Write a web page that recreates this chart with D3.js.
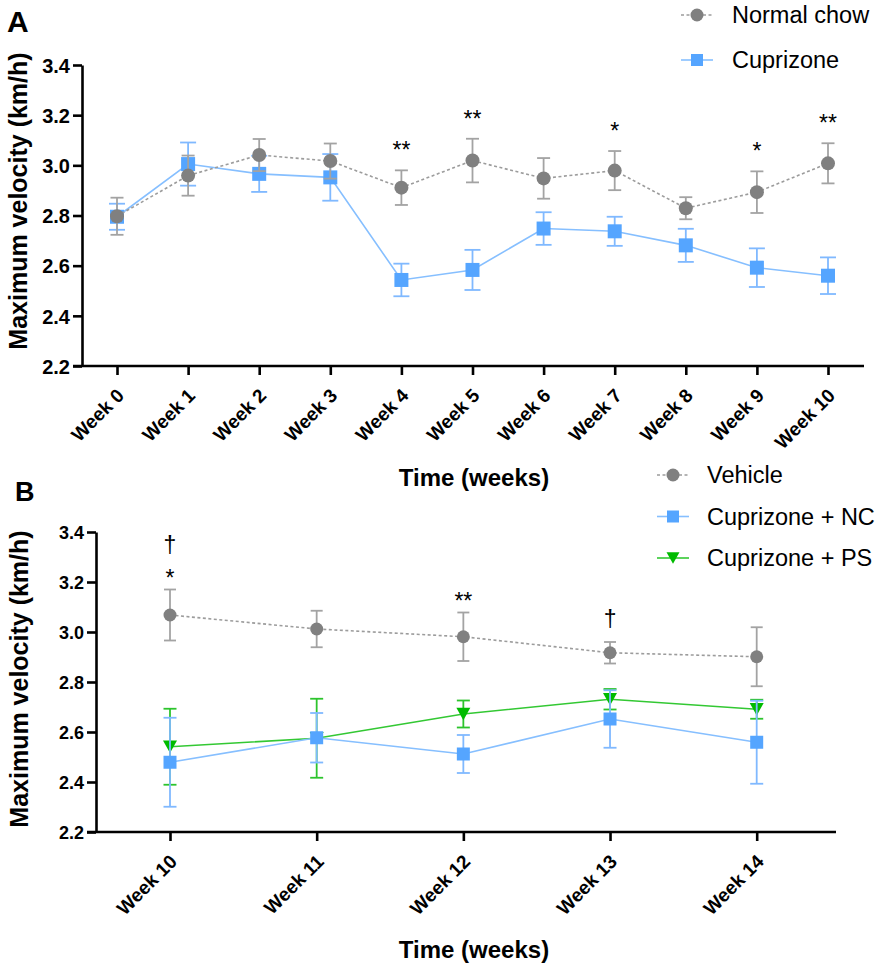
<!DOCTYPE html>
<html>
<head>
<meta charset="utf-8">
<script src="https://cdn.jsdelivr.net/npm/d3@7/dist/d3.min.js"></script>
<style>
  body { margin: 0; background: #fff; }
  svg { display: block; font-family: "Liberation Sans", Arial, Helvetica, sans-serif; }
</style>
</head>
<body>
<svg id="chart" width="886" height="966"></svg>
<script>
// ---------- Panel A data: weeks 0-10 (mean ± SEM, km/h) ----------
const weeksA = ["Week 0", "Week 1", "Week 2", "Week 3", "Week 4", "Week 5",
                "Week 6", "Week 7", "Week 8", "Week 9", "Week 10"];
const normalChowMean = [2.797, 2.959, 3.041, 3.017, 2.911, 3.019, 2.948, 2.979, 2.829, 2.893, 3.008];
const normalChowSem  = [0.074, 0.080, 0.064, 0.070, 0.069, 0.087, 0.081, 0.078, 0.044, 0.083, 0.080];
const cuprizoneMean  = [2.795, 3.005, 2.966, 2.952, 2.543, 2.583, 2.748, 2.737, 2.681, 2.592, 2.560];
const cuprizoneSem   = [0.052, 0.086, 0.072, 0.093, 0.065, 0.080, 0.065, 0.058, 0.066, 0.077, 0.073];
// significance marks per week (bottom to top)
const sigA = [[], [], [], [], ["**"], ["**"], [], ["*"], [], ["*"], ["**"]];

// ---------- Panel B data: weeks 10-14 ----------
const weeksB = ["Week 10", "Week 11", "Week 12", "Week 13", "Week 14"];
const vehicleMean = [3.068, 3.012, 2.981, 2.917, 2.901];
const vehicleSem  = [0.102, 0.073, 0.097, 0.043, 0.118];
const cupNCMean   = [2.479, 2.577, 2.512, 2.652, 2.559];
const cupNCSem    = [0.178, 0.099, 0.076, 0.115, 0.166];
const cupPSMean   = [2.541, 2.575, 2.672, 2.731, 2.691];
const cupPSSem    = [0.152, 0.158, 0.054, 0.041, 0.038];
const sigB = [["*", "†"], [], ["**"], ["†"], []];

const yTicks = [2.2, 2.4, 2.6, 2.8, 3.0, 3.2, 3.4];
const yTitle = "Maximum velocity (km/h)";
const xTitle = "Time (weeks)";

const svg = d3.select("#chart");

const styles = {
  gray:  { marker: "circle",   fill: "#808080", line: "#9c9c9c", dash: "3,2.5", err: "#a3a3a3" },
  blue:  { marker: "square",   fill: "#55a5ff", line: "#86bfff", dash: null,    err: "#80b9ff" },
  green: { marker: "triangle", fill: "#00bb00", line: "#33c833", dash: null,    err: "#2dc42d" }
};

function markerPath(type, size) {
  if (type === "circle") return d3.symbol(d3.symbolCircle, Math.PI * size * size / 4)();
  if (type === "square") return d3.symbol(d3.symbolSquare, size * size)();
  // downward triangle
  const h = size * 0.88, w = size;
  return `M${-w / 2},${-h / 2}L${w / 2},${-h / 2}L0,${h / 2}Z`;
}

function drawPanel(cfg) {
  const g = svg.append("g");
  const x = d3.scalePoint().domain(cfg.categories).range(cfg.xRange);
  const y = d3.scaleLinear().domain([2.2, 3.4]).range(cfg.yRange);

  // y axis
  const ya = g.append("g")
    .attr("transform", `translate(${cfg.axisX},0)`)
    .call(d3.axisLeft(y).tickValues(yTicks).tickFormat(d3.format(".1f"))
      .tickSize(9).tickSizeOuter(0).tickPadding(3));
  ya.select(".domain").attr("stroke", "#000").attr("stroke-width", 2.6);
  ya.selectAll(".tick line").attr("stroke", "#000").attr("stroke-width", 2.6);
  ya.selectAll(".tick text").attr("fill", "#000")
    .style("font-size", cfg.yTickFont + "px").style("font-weight", "bold")
    .attr("dy", "0.36em");

  // x axis
  const xa = g.append("g")
    .attr("transform", `translate(0,${y(2.2)})`)
    .call(d3.axisBottom(x).tickSize(9).tickSizeOuter(0));
  xa.select(".domain").remove();
  xa.append("line")
    .attr("x1", cfg.axisX - 9).attr("x2", cfg.xEnd)
    .attr("stroke", "#000").attr("stroke-width", 2.6);
  xa.selectAll(".tick line").attr("stroke", "#000").attr("stroke-width", 2.6);
  xa.selectAll(".tick text")
    .attr("fill", "#000").attr("x", 0).attr("y", 0).attr("dy", "0.35em")
    .attr("transform", "translate(3,26) rotate(-45)")
    .style("text-anchor", "end")
    .style("font-size", "19px").style("font-weight", "bold");

  // series: connecting lines, error bars, markers
  cfg.series.forEach(s => {
    const st = styles[s.style];
    const pts = cfg.categories.map((c, i) => ({ c, m: s.mean[i], e: s.sem[i] }));
    g.append("path")
      .datum(pts)
      .attr("fill", "none")
      .attr("stroke", st.line)
      .attr("stroke-width", 1.6)
      .attr("stroke-dasharray", st.dash)
      .attr("d", d3.line().x(d => x(d.c)).y(d => y(d.m)));

    const eb = g.append("g").selectAll("g").data(pts).join("g")
      .attr("stroke", st.err).attr("stroke-width", 1.8);
    eb.append("line")
      .attr("x1", d => x(d.c)).attr("x2", d => x(d.c))
      .attr("y1", d => y(d.m - d.e)).attr("y2", d => y(d.m + d.e));
    eb.append("line")
      .attr("x1", d => x(d.c) - s.cap).attr("x2", d => x(d.c) + s.cap)
      .attr("y1", d => y(d.m + d.e)).attr("y2", d => y(d.m + d.e));
    eb.append("line")
      .attr("x1", d => x(d.c) - s.cap).attr("x2", d => x(d.c) + s.cap)
      .attr("y1", d => y(d.m - d.e)).attr("y2", d => y(d.m - d.e));

    g.append("g").selectAll("path").data(pts).join("path")
      .attr("d", markerPath(st.marker, s.size))
      .attr("transform", d => `translate(${x(d.c)},${y(d.m)})`)
      .attr("fill", st.fill);
  });

  // significance marks above the highest error bar
  cfg.sig.forEach((marks, i) => {
    if (!marks.length) return;
    const top = d3.max(cfg.series, s => s.mean[i] + s.sem[i]);
    let base = y(top) - (marks[0] === "†" ? cfg.daggerGap : cfg.starGap);
    marks.forEach((t, k) => {
      if (k > 0) base -= 33;
      g.append("text")
        .attr("x", x(cfg.categories[i])).attr("y", base)
        .attr("text-anchor", "middle")
        .style("font-size", "23px").attr("fill", "#000")
        .text(t);
    });
  });

  // axis titles
  g.append("text")
    .attr("transform", `translate(${cfg.yTitleX},${cfg.yTitleY}) rotate(-90)`)
    .attr("text-anchor", "middle")
    .style("font-size", "25px").style("font-weight", "bold")
    .text(yTitle);
  g.append("text")
    .attr("x", cfg.xTitleX).attr("y", cfg.xTitleY)
    .attr("text-anchor", "middle")
    .style("font-size", "24px").style("font-weight", "bold")
    .text(xTitle);

  // panel letter
  g.append("text")
    .attr("x", cfg.letterX).attr("y", cfg.letterY)
    .style("font-size", cfg.letterSize + "px").style("font-weight", "bold")
    .text(cfg.letter);

  // legend
  const lg = g.append("g");
  cfg.legend.forEach((item, i) => {
    const st = styles[item.style];
    const yy = cfg.legendY + i * cfg.legendStep;
    lg.append("line")
      .attr("x1", cfg.legendX - 16).attr("x2", cfg.legendX + 16)
      .attr("y1", yy).attr("y2", yy)
      .attr("stroke", st.line).attr("stroke-width", 1.6)
      .attr("stroke-dasharray", st.dash);
    lg.append("path")
      .attr("d", markerPath(st.marker, item.size))
      .attr("transform", `translate(${cfg.legendX},${yy})`)
      .attr("fill", st.fill);
    lg.append("text")
      .attr("x", cfg.legendTextX).attr("y", yy).attr("dy", "0.35em")
      .style("font-size", "23.5px").attr("fill", "#000")
      .text(item.label);
  });
}

drawPanel({
  letter: "A", letterX: 7, letterY: 32, letterSize: 30,
  categories: weeksA,
  xRange: [117, 828], xEnd: 864,
  yRange: [366, 65], axisX: 82, yTickFont: 20,
  series: [
    { style: "blue", mean: cuprizoneMean, sem: cuprizoneSem, cap: 8, size: 14 },
    { style: "gray", mean: normalChowMean, sem: normalChowSem, cap: 6.5, size: 14 }
  ],
  sig: sigA, starGap: 12, daggerGap: 15,
  yTitleX: 27, yTitleY: 201,
  xTitleX: 474, xTitleY: 486,
  legend: [
    { style: "gray", label: "Normal chow", size: 13 },
    { style: "blue", label: "Cuprizone", size: 12 }
  ],
  legendX: 697, legendTextX: 732, legendY: 15, legendStep: 45
});

drawPanel({
  letter: "B", letterX: 15, letterY: 501, letterSize: 27,
  categories: weeksB,
  xRange: [170, 756.7], xEnd: 836,
  yRange: [832, 532], axisX: 96, yTickFont: 18,
  series: [
    { style: "green", mean: cupPSMean, sem: cupPSSem, cap: 6.5, size: 14 },
    { style: "blue", mean: cupNCMean, sem: cupNCSem, cap: 6.5, size: 13 },
    { style: "gray", mean: vehicleMean, sem: vehicleSem, cap: 6, size: 13 }
  ],
  sig: sigB, starGap: 4, daggerGap: 15,
  yTitleX: 28, yTitleY: 679,
  xTitleX: 474, xTitleY: 958,
  legend: [
    { style: "gray", label: "Vehicle", size: 13 },
    { style: "blue", label: "Cuprizone + NC", size: 12 },
    { style: "green", label: "Cuprizone + PS", size: 13 }
  ],
  legendX: 673, legendTextX: 707, legendY: 475, legendStep: 41.5
});
</script>
</body>
</html>
